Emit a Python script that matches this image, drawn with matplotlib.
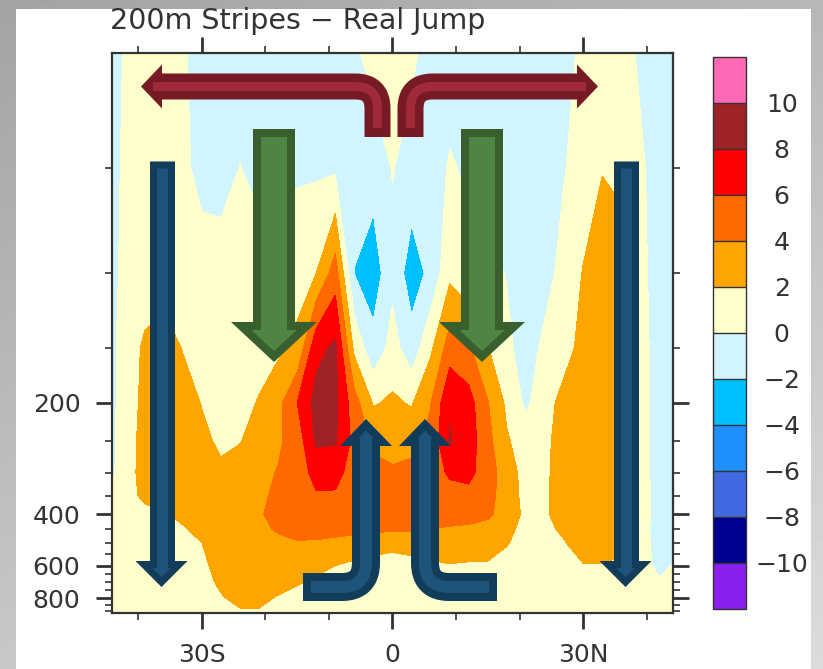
import numpy as np
import matplotlib
matplotlib.use("Agg")
import matplotlib.pyplot as plt
from matplotlib.colors import ListedColormap, BoundaryNorm
from matplotlib.path import Path
from matplotlib.patches import PathPatch, Polygon, Rectangle

# ---------------- data ----------------
LAT = list(range(-45, 46, 3))
PRES = [0, 50, 100, 150, 200, 250, 300, 350, 400, 450, 500, 600, 700, 800, 925]
ANOM = [
    [-1, 0.2, 1, 1, 0.3, -1, -1, -1, -1, -1, -1, -1, -1, -0.4, 0.8, 1, 0.4, -0.8, -1, -1, -1, -1, -1, -1, -0.6, 0.4, 1, 0.8, -0.3, -1, -1],
    [-1, 0.4, 1, 1, 0.5, -0.7, -0.9, 0.05, -0.8, -1, -0.3, -0.3, -0.3, -1.2, -1.2, 0.1, -0.8, -1, 0.2, -0.3, -1, -1, -1, -1, -0.1, 0.8, 1.9, 1.5, 0.3, -0.8, -1],
    [-1, 0.6, 1, 1, 1, 1, 1, 1.2, 1.2, 1.2, 1.3, 2.0, 5.0, -2.05, -3.0, -0.6, -3.0, -1.5, 1.5, 0.5, 0.6, -0.1, -1, -0.6, 0.6, 2.1, 3.2, 3.0, 0.5, -0.8, -1],
    [-1, 1, 2.3, 3, 1.9, 1.5, 1.3, 1.3, 1.4, 1.6, 2.4, 7.4, 8.4, 1.5, -1.4, 0.8, -1.2, 1.6, 5.0, 4.3, 2.1, 0.4, -0.8, 0.4, 1.3, 2.6, 3.3, 3.2, 0.7, -0.8, -1],
    [-1, 1.0, 2.5, 3.3, 2.9, 1.9, 1.4, 1.5, 2.1, 3.4, 6.0, 8.7, 8.5, 4.8, 1.8, 2.3, 1.8, 3.9, 7.8, 6.8, 4.1, 1.6, -0.4, 1.3, 2.6, 3.4, 3.5, 3.2, 0.8, -0.8, -1],
    [-1, 1.2, 2.6, 3.3, 3.3, 2.5, 1.6, 1.9, 3.0, 3.7, 4.9, 8.3, 8.2, 5.4, 3.6, 3.1, 3.4, 4.5, 8.15, 7.0, 4.6, 2.2, 1.1, 1.6, 2.8, 3.5, 3.5, 3.2, 0.8, -0.8, -1],
    [-1, 1.3, 2.6, 3.3, 3.4, 3.2, 2.4, 3.0, 3.5, 4.1, 4.8, 6.8, 6.6, 5.2, 4.6, 4.3, 4.5, 5.0, 6.3, 6.5, 5.0, 2.9, 1.3, 1.7, 2.8, 3.5, 3.5, 3.2, 0.8, -0.8, -1],
    [-0.2, 1.3, 2.4, 3.2, 3.4, 3.4, 3.5, 3.6, 3.8, 4.2, 4.9, 5.8, 5.8, 5.2, 4.8, 4.5, 4.6, 4.9, 5.3, 5.5, 4.7, 3.0, 1.4, 1.8, 2.7, 3.4, 3.4, 3.1, 0.9, -0.8, -1],
    [0.6, 1.2, 1.5, 1.8, 2.5, 3.3, 3.5, 3.6, 3.9, 4.3, 4.8, 5.2, 5.2, 4.9, 4.6, 4.4, 4.5, 4.7, 4.9, 4.9, 4.4, 3.0, 1.6, 1.8, 2.7, 3.3, 3.3, 3.0, 0.9, -0.8, -1],
    [0.8, 1.1, 1.3, 1.5, 1.8, 2.6, 3.3, 3.5, 3.8, 4.1, 4.5, 4.7, 4.6, 4.5, 4.4, 4.3, 4.2, 4.0, 3.8, 3.6, 3.3, 2.4, 1.5, 1.6, 2.3, 3.1, 3.1, 2.8, 0.8, -0.8, -1],
    [0.8, 1, 1.1, 1.3, 1.6, 2.0, 2.9, 3.4, 3.6, 3.8, 3.9, 3.8, 3.6, 3.3, 2.9, 2.6, 2.8, 3.0, 3.1, 3.0, 2.8, 2.1, 1.4, 1.4, 1.9, 2.9, 3.0, 2.6, 0.8, -0.7, -0.5],
    [0.8, 0.9, 1, 1.1, 1.3, 1.7, 2.5, 2.9, 3.0, 2.9, 2.6, 2.3, 2.0, 1.6, 1.3, 1.2, 1.4, 1.7, 1.9, 1.8, 1.8, 1.5, 1.2, 1.2, 1.5, 1.9, 1.9, 1.6, 0.8, -0.5, 0.3],
    [0.8, 0.9, 1, 1.1, 1.3, 1.6, 2.2, 2.6, 2.6, 2.4, 2.1, 1.8, 1.5, 1.2, 1.0, 0.9, 1.0, 1.2, 1.3, 1.3, 1.3, 1.2, 1.0, 1.0, 1.2, 1.4, 1.4, 1.2, 0.9, 0.2, 0.6],
    [0.8, 0.9, 1, 1, 1.1, 1.4, 1.9, 2.3, 2.3, 1.9, 1.6, 1.3, 1.2, 1.1, 1.0, 0.9, 1.0, 1.1, 1.1, 1.1, 1.1, 1.0, 1.0, 1.0, 1.0, 1.1, 1.1, 1.0, 0.9, 0.8, 0.8],
    [0.8, 0.9, 1, 1, 1, 1.2, 1.5, 1.8, 1.8, 1.5, 1.3, 1.2, 1.1, 1, 1, 1, 1, 1, 1, 1, 1, 1, 1, 1, 1, 1, 1, 1, 0.9, 0.8, 0.8],
]
LEVELS = list(range(-10, 11, 2))
BAND_COLORS = ["#000090", "#4169e1", "#1e90ff", "#00bfff", "#d0f5ff",
               "#ffffcc", "#ffa500", "#ff6a00", "#ff0000", "#9e2226"]
UNDER_COLOR = "#8a1ff0"
OVER_COLOR = "#ff69b4"

TITLE = "200m Stripes \u2212 Real Jump"
X_MAJOR = [-30, 0, 30]
X_LABELS = ["30S", "0", "30N"]
X_MINOR = [-40, -20, -10, 10, 20, 40]
Y_MAJOR = [200, 400, 600, 800]
Y_LABELS = ["200", "400", "600", "800"]
Y_MINOR = [50, 100, 150, 250, 300, 350, 450, 500, 550, 650, 700, 750, 850, 900]

# stretched vertical axis: pressure -> relative position
AXIS_P = [0, 50, 100, 150, 200, 250, 300, 350, 400, 450, 500, 550, 600, 650, 700, 750, 800, 850, 900, 925]
AXIS_POS = [53, 168, 273, 348, 402.4, 441, 472.5, 495.5, 514, 529, 542.6, 554, 565.6, 574, 582.2, 590.3, 598, 605, 611, 613]

# ---------------- figure ----------------
W, H, DPI = 823, 669, 100
fig = plt.figure(figsize=(W / DPI, H / DPI), dpi=DPI)

bg = fig.add_axes([0, 0, 1, 1])
bg.set_axis_off()
yy, xx = np.mgrid[0:1:200j, 0:1:200j]
shade = 0.64 + 0.22 * (0.65 * yy + 0.35 * xx)
bg.imshow(shade, cmap="gray", vmin=0, vmax=1, extent=(0, 1, 0, 1), aspect="auto", origin="upper")
bg.add_patch(Rectangle((16 / W, 0), (811 - 16) / W, 1 - 9 / H, transform=bg.transAxes,
                       facecolor="white", edgecolor="none"))
bg.set_xlim(0, 1)
bg.set_ylim(0, 1)

ax = fig.add_axes([111.7 / W, 1 - 613 / H, (673.3 - 111.7) / W, (613 - 53.3) / H])


def fwd(p):
    return np.interp(np.asarray(p, float), AXIS_P, AXIS_POS)


def inv(y):
    return np.interp(np.asarray(y, float), AXIS_POS, AXIS_P)


ax.set_yscale("function", functions=(fwd, inv))

cmap = ListedColormap(BAND_COLORS).with_extremes(under=UNDER_COLOR, over=OVER_COLOR)
norm = BoundaryNorm(LEVELS, cmap.N)
cs = ax.contourf(LAT, PRES, np.array(ANOM), levels=LEVELS, cmap=cmap, norm=norm, extend="both")

ax.set_xlim(-44.2, 44.2)
ax.set_ylim(925, 0)
ax.set_xticks(X_MAJOR, X_LABELS)
ax.set_xticks(X_MINOR, minor=True)
ax.set_yticks(Y_MAJOR, Y_LABELS)
ax.set_yticks(Y_MINOR, minor=True)
ax.tick_params(which="both", direction="out", top=True, right=True, color="#333333")
ax.tick_params(which="major", length=11.5, width=2, labelsize=18, labelcolor="#333333")
ax.tick_params(which="minor", length=5, width=1.2)
ax.tick_params(axis="x", pad=10)
ax.tick_params(axis="y", pad=11)
for s in ax.spines.values():
    s.set_linewidth(1.6)
    s.set_color("#333333")

fig.text(110 / W, 1 - 21 / H, TITLE, ha="left", va="center", fontsize=20.5, color="#333333")

# ---------------- colorbar ----------------
cax = fig.add_axes([712.7 / W, 1 - 609 / H, 33 / W, (609 - 57) / H])
cb = fig.colorbar(cs, cax=cax, extendrect=True, extendfrac=0.1, drawedges=True)
cb.set_ticks(LEVELS, labels=[str(v).replace("-", "\u2212") for v in LEVELS])
cb.ax.tick_params(length=0, pad=36 * 72 / DPI, labelsize=18, labelcolor="#333333")
for lab in cb.ax.get_yticklabels():
    lab.set_ha("center")
cb.outline.set_edgecolor("#333333")
cb.outline.set_linewidth(1.0)
cb.dividers.set_color("#333333")
cb.dividers.set_linewidth(1.0)

# ---------------- circulation arrows (annotation) ----------------
def to_fig(pts):
    return [(x / W, 1 - y / H) for x, y in pts]


def px2pt(v):
    return v * 72.0 / DPI


def stroke(pts, codes, width, color):
    fig.add_artist(PathPatch(Path(to_fig(pts), codes), transform=fig.transFigure, fill=False,
                             edgecolor=color, linewidth=px2pt(width), capstyle="butt",
                             joinstyle="round"))


def head(tip, b1, b2, border, face, edge):
    P = np.array([tip, b1, b2], float)
    a = np.linalg.norm(P[1] - P[2])
    b = np.linalg.norm(P[0] - P[2])
    c = np.linalg.norm(P[0] - P[1])
    inc = (a * P[0] + b * P[1] + c * P[2]) / (a + b + c)
    u, v = P[1] - P[0], P[2] - P[0]
    area = abs(u[0] * v[1] - u[1] * v[0]) / 2
    r = area / ((a + b + c) / 2)
    k = max(r - border / 2, 0.5) / r
    Q = inc + (P - inc) * k
    fig.add_artist(Polygon(to_fig(Q), closed=True, transform=fig.transFigure, facecolor=face,
                           edgecolor=edge, linewidth=px2pt(border), joinstyle="miter"))


M, L, C = Path.MOVETO, Path.LINETO, Path.CURVE3


def straight(xc, y_tail, y_base, y_tip, shaft, head_w, border, face, edge):
    s = 1 if y_tip > y_tail else -1
    head((xc, y_tip), (xc - head_w / 2, y_base), (xc + head_w / 2, y_base), border, face, edge)
    stroke([(xc, y_tail), (xc, y_base)], [M, L], shaft, edge)
    stroke([(xc, y_tail + s * border), (xc, y_base + s * border)], [M, L], shaft - 2 * border, face)


def bent(pts, inner_pts, codes, width, border, tip, b1, b2, face, edge):
    head(tip, b1, b2, border, face, edge)
    stroke(pts, codes, width, edge)
    stroke(inner_pts, codes, width - 2 * border, face)


BLUE_D, BLUE_L = "#123d5a", "#1e5479"
GREEN_D, GREEN_L = "#3a5f2e", "#4f8542"
RED_D, RED_L = "#761b26", "#a12a3a"

# outer descending branches
straight(161.5, 161, 561, 587, 25, 52, 7, BLUE_L, BLUE_D)
straight(625.5, 161, 561, 587, 25, 52, 7, BLUE_L, BLUE_D)
# green descending arrows
straight(274, 129, 322, 362, 42, 86, 8, GREEN_L, GREEN_D)
straight(482, 129, 322, 362, 42, 86, 8, GREEN_L, GREEN_D)

# top divergent outflow
R = 22
codes5 = [M, L, C, C, L]
bent([(377.5, 137), (377.5, 86.5 + R), (377.5, 86.5), (377.5 - R, 86.5), (162, 86.5)],
     [(377.5, 128), (377.5, 86.5 + R), (377.5, 86.5), (377.5 - R, 86.5), (153, 86.5)],
     codes5, 26, 8.5, (141, 86.5), (162, 64.5), (162, 108.5), RED_L, RED_D)
bent([(410.5, 137), (410.5, 86.5 + R), (410.5, 86.5), (410.5 + R, 86.5), (577, 86.5)],
     [(410.5, 128), (410.5, 86.5 + R), (410.5, 86.5), (410.5 + R, 86.5), (586, 86.5)],
     codes5, 26, 8.5, (598, 86.5), (577, 64.5), (577, 108.5), RED_L, RED_D)

# central rising J arrows
RJ = 24
bent([(303, 587), (366 - RJ, 587), (366, 587), (366, 587 - RJ), (366, 446)],
     [(311, 587), (366 - RJ, 587), (366, 587), (366, 587 - RJ), (366, 438)],
     codes5, 28, 8, (366, 419), (340, 446), (392, 446), BLUE_L, BLUE_D)
bent([(497, 587), (425 + RJ, 587), (425, 587), (425, 587 - RJ), (425, 446)],
     [(489, 587), (425 + RJ, 587), (425, 587), (425, 587 - RJ), (425, 438)],
     codes5, 28, 8, (425, 419), (399, 446), (451, 446), BLUE_L, BLUE_D)

fig.savefig("out.png", dpi=DPI)
